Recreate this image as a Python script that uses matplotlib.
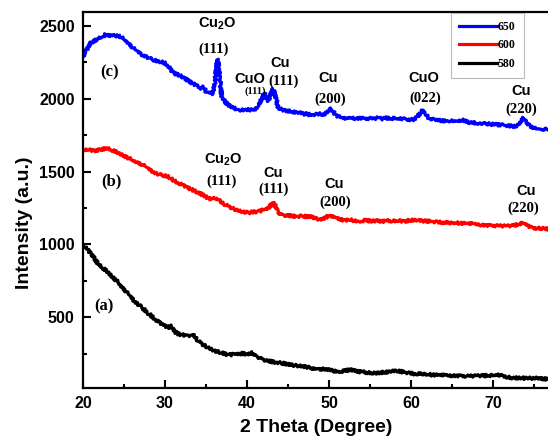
import matplotlib
matplotlib.use("Agg")
import matplotlib.pyplot as plt

plt.rcParams['mathtext.fontset'] = 'custom'
plt.rcParams['mathtext.bf'] = 'Liberation Sans:bold'
plt.rcParams['mathtext.rm'] = 'Liberation Sans:bold'
plt.rcParams['mathtext.default'] = 'bf'

# ---- data ----
x_650 = [20.0, 20.4, 20.85, 21.3, 21.9, 22.3, 22.7, 23.1, 23.5, 23.9, 24.3, 24.7, 25.1, 25.6, 26.1,
         26.6, 27.2, 27.7, 28.2, 28.8, 29.4, 30.0, 30.4, 30.8, 31.3, 31.8, 32.4, 32.9, 33.5, 34.1,
         34.4, 34.7, 35.0, 35.3, 35.8, 36.1, 36.4, 36.6, 36.9, 37.3, 37.7, 38.1, 38.5, 38.9, 39.3,
         39.7, 40.0, 40.5, 41.0, 41.4, 41.8, 42.1, 42.4, 42.6, 42.9, 43.2, 43.5, 43.8, 44.3, 44.8,
         45.5, 46.0, 46.5, 47.0, 47.4, 47.7, 48.2, 48.9, 49.4, 49.8, 50.2, 50.6, 50.9, 51.5, 52.2,
         52.8, 53.3, 53.8, 54.4, 54.9, 55.4, 56.0, 56.5, 57.0, 57.5, 58.0, 58.5, 59.0, 59.6, 60.3,
         60.8, 61.3, 61.8, 62.3, 62.9, 63.5, 64.0, 64.4, 65.0, 65.7, 66.4, 67.0, 67.7, 68.4, 69.0,
         69.7, 70.5, 71.0, 71.7, 72.5, 73.0, 73.4, 73.7, 74.1, 74.5, 75.0, 75.7, 76.2, 76.8]
y_650 = [2290, 2330, 2380, 2395, 2415, 2425, 2440, 2430, 2440, 2432, 2435, 2420, 2405, 2380, 2347,
         2325, 2302, 2290, 2275, 2262, 2255, 2244, 2225, 2190, 2170, 2160, 2141, 2120, 2100, 2085,
         2070, 2080, 2050, 2039, 2034, 2120, 2272, 2200, 2016, 1980, 1959, 1945, 1935, 1920, 1925,
         1922, 1925, 1922, 1930, 1945, 2000, 2039, 2000, 1985, 2030, 2067, 2010, 1936, 1925, 1918,
         1912, 1905, 1902, 1895, 1898, 1884, 1890, 1895, 1892, 1905, 1936, 1905, 1884, 1870, 1861,
         1870, 1862, 1868, 1860, 1865, 1861, 1868, 1860, 1868, 1862, 1866, 1860, 1864, 1858, 1856,
         1875, 1920, 1890, 1861, 1855, 1850, 1848, 1845, 1846, 1842, 1852, 1838, 1835, 1829, 1830,
         1825, 1822, 1820, 1815, 1810, 1815, 1845, 1868, 1835, 1810, 1798, 1788, 1790, 1788]

x_600 = [20.0, 20.7, 21.5, 22.0, 22.5, 22.9, 23.4, 23.9, 24.4, 25.0, 25.5, 26.0, 26.6, 27.2, 27.7,
         28.2, 28.8, 29.4, 30.0, 30.4, 30.8, 31.2, 31.7, 32.2, 32.8, 33.3, 33.9, 34.5, 35.0, 35.4,
         35.7, 36.0, 36.3, 36.8, 37.3, 37.8, 38.3, 38.9, 39.5, 40.2, 40.7, 41.3, 41.8, 42.3, 42.8,
         43.2, 43.5, 44.0, 44.5, 45.0, 45.6, 46.2, 46.8, 47.2, 47.7, 48.3, 48.9, 49.5, 50.1, 50.7,
         51.3, 52.0, 52.6, 53.2, 53.8, 54.5, 55.2, 55.9, 56.5, 57.2, 57.8, 58.5, 59.2, 59.8, 60.3,
         61.0, 61.9, 62.6, 63.4, 64.4, 65.2, 66.0, 66.8, 67.6, 68.4, 69.2, 70.0, 70.9, 71.7, 72.4,
         73.0, 73.7, 74.3, 74.9, 75.6, 76.3, 76.8]
y_600 = [1651, 1648, 1644, 1650, 1655, 1662, 1650, 1639, 1625, 1610, 1594, 1580, 1565, 1548, 1530,
         1510, 1491, 1478, 1470, 1468, 1448, 1434, 1420, 1405, 1389, 1375, 1360, 1343, 1325, 1315,
         1308, 1318, 1320, 1290, 1274, 1258, 1245, 1233, 1225, 1217, 1222, 1225, 1233, 1240, 1260,
         1292, 1260, 1206, 1200, 1198, 1194, 1190, 1196, 1190, 1194, 1180, 1171, 1180, 1201, 1185,
         1171, 1165, 1168, 1162, 1160, 1165, 1158, 1162, 1158, 1162, 1160, 1164, 1158, 1165, 1167,
         1162, 1160, 1155, 1152, 1148, 1150, 1145, 1144, 1140, 1135, 1130, 1128, 1126, 1125, 1128,
         1135, 1148, 1125, 1113, 1110, 1107, 1105]

x_580 = [20.0, 20.2, 20.6, 21.1, 21.5, 21.9, 22.5, 23.1, 23.7, 24.3, 24.9, 25.5, 26.3, 27.2, 28.0,
         28.8, 29.4, 30.0, 30.5, 30.8, 31.2, 31.6, 32.2, 32.8, 33.3, 33.7, 34.1, 34.5, 35.3, 36.1,
         36.9, 37.7, 38.5, 39.4, 40.0, 40.6, 41.2, 41.8, 42.6, 43.4, 44.2, 45.0, 45.7, 46.5, 47.5,
         48.1, 48.8, 49.5, 50.5, 51.5, 52.6, 53.5, 54.4, 55.4, 56.3, 57.3, 58.3, 59.5, 60.7, 61.6,
         62.5, 63.5, 64.5, 65.6, 66.8, 67.8, 68.8, 69.9, 70.9, 71.7, 72.5, 73.2, 74.0, 74.9, 75.8,
         76.8]
y_580 = [995, 988, 960, 932, 895, 863, 835, 806, 772, 738, 700, 658, 610, 566, 525,
         486, 460, 440, 430, 440, 400, 384, 378, 372, 384, 360, 335, 315, 290, 269,
         255, 242, 245, 251, 248, 255, 230, 212, 200, 190, 185, 178, 170, 166, 155,
         148, 140, 145, 132, 128, 139, 128, 122, 116, 120, 125, 132, 118, 110, 112,
         105, 103, 100, 98, 94, 96, 98, 100, 103, 90, 80, 85, 80, 82, 78,
         75]

series_labels = ['650', '600', '580']
series_colors = ['#0000ff', '#ff0000', '#000000']

x_ticks = [20, 30, 40, 50, 60, 70]
y_ticks = [500, 1000, 1500, 2000, 2500]

# peak annotations: (text, x, y, style)
annotations = [
    ('Cu$_2$O', 36.4, 2516, 'sans'), ('(111)', 35.9, 2340, 'serif'),
    ('CuO', 40.3, 2134, 'sans'), ('(111)', 41.0, 2050, 'serif_small'),
    ('Cu', 44.0, 2244, 'sans'), ('(111)', 44.5, 2119, 'serif'),
    ('Cu', 49.9, 2141, 'sans'), ('(200)', 50.1, 1998, 'serif'),
    ('CuO', 61.6, 2141, 'sans'), ('(022)', 61.7, 2005, 'serif'),
    ('Cu', 73.4, 2050, 'sans'), ('(220)', 73.5, 1930, 'serif'),
    ('Cu$_2$O', 37.1, 1582, 'sans'), ('(111)', 36.9, 1434, 'serif'),
    ('Cu', 43.2, 1493, 'sans'), ('(111)', 43.2, 1380, 'serif'),
    ('Cu', 50.6, 1411, 'sans'), ('(200)', 50.8, 1286, 'serif'),
    ('Cu', 74.0, 1365, 'sans'), ('(220)', 73.7, 1245, 'serif'),
    ('(c)', 23.3, 2180, 'tag'), ('(b)', 23.5, 1430, 'tag'), ('(a)', 22.6, 576, 'tag'),
]

# ---- figure ----
fig = plt.figure(figsize=(5.48, 4.37), dpi=100)
ax = fig.add_axes([83 / 548, 49 / 437, 492 / 548, 375.7 / 437])

lines = []
for xs, ys, lab, col in [(x_650, y_650, series_labels[0], series_colors[0]),
                         (x_600, y_600, series_labels[1], series_colors[1]),
                         (x_580, y_580, series_labels[2], series_colors[2])]:
    ln, = ax.plot(xs, ys, color=col, lw=2.3, label=lab, solid_joinstyle='round')
    ln.set_sketch_params(scale=1.3, length=3, randomness=2)
    lines.append(ln)

ax.set_xlim(20, 80)
ax.set_ylim(14, 2593)
ax.set_xticks(x_ticks)
ax.set_xticks([25, 35, 45, 55, 65, 75], minor=True)
ax.set_yticks(y_ticks)
ax.set_yticks([250, 750, 1250, 1750, 2250], minor=True)

for s in ax.spines.values():
    s.set_linewidth(1.6)
ax.tick_params(which='both', direction='in', width=1.5, top=False, right=False)
ax.tick_params(which='major', length=5.5, pad=6)
ax.tick_params(which='minor', length=3)
for lab in ax.get_xticklabels() + ax.get_yticklabels():
    lab.set_fontfamily('Liberation Sans')
    lab.set_fontweight('bold')
    lab.set_fontsize(11.5)

ax.set_xlabel('2 Theta (Degree)', fontfamily='Liberation Sans', fontweight='bold', fontsize=14)
ax.set_ylabel('Intensity (a.u.)', fontfamily='Liberation Sans', fontweight='bold', fontsize=14)
ax.xaxis.set_label_coords(0.4736, -0.083)
ax.yaxis.set_label_coords(-0.102, 0.44)

styles = {
    'sans': dict(fontfamily='Liberation Sans', fontweight='bold', fontsize=10.5),
    'serif': dict(fontfamily='Liberation Serif', fontweight='bold', fontsize=10.5),
    'serif_small': dict(fontfamily='Liberation Serif', fontweight='bold', fontsize=7.5),
    'tag': dict(fontfamily='Liberation Serif', fontweight='bold', fontsize=12),
}
for txt, xx, yy, st in annotations:
    ax.text(xx, yy, txt, ha='center', va='center', **styles[st])

leg = ax.legend(handles=lines, loc='upper right', bbox_to_anchor=(524 / 548, (437 - 12.7) / 437),
                bbox_transform=fig.transFigure, borderaxespad=0, fancybox=False,
                frameon=True, handlelength=3.2, handletextpad=0.1, labelspacing=0.55,
                borderpad=0.7, prop=dict(family='Liberation Serif', weight='bold', size=8.5))
leg.get_frame().set_edgecolor('#aaaaaa')
leg.get_frame().set_linewidth(0.8)
for h in leg.get_lines():
    h.set_sketch_params(None)

fig.savefig('out.png', dpi=100)
